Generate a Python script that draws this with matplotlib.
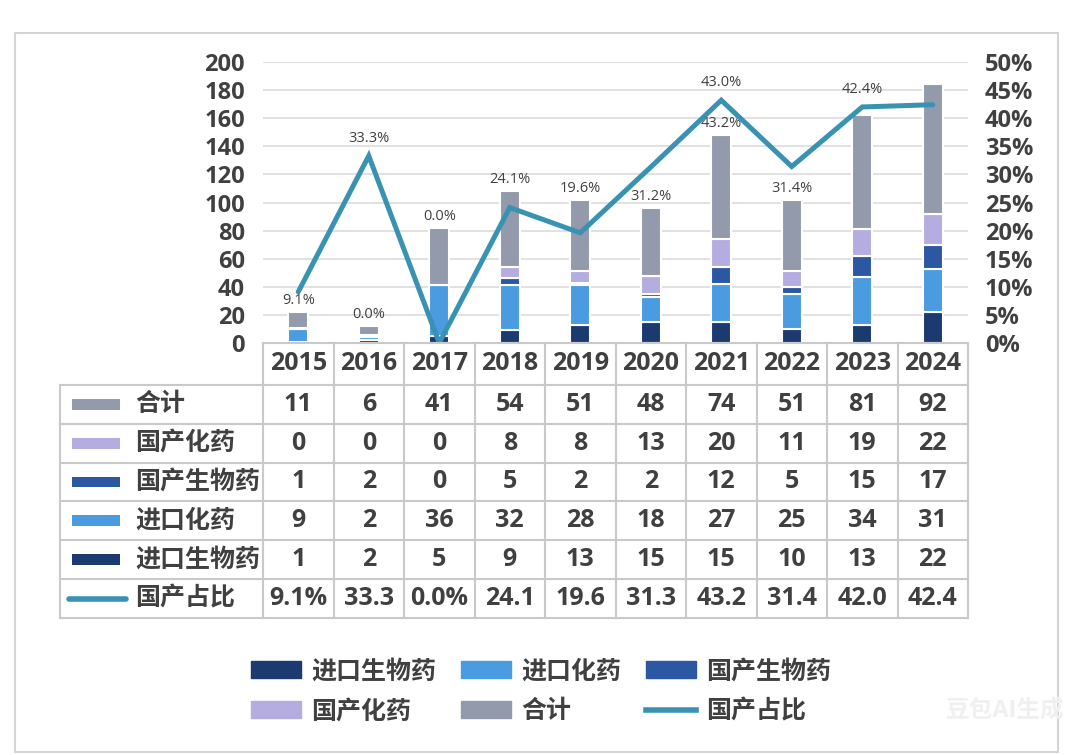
import numpy as np
import matplotlib
matplotlib.use("Agg")
import matplotlib.pyplot as plt
from matplotlib.patches import Rectangle, Patch
from matplotlib.lines import Line2D
from matplotlib.ticker import PercentFormatter

plt.rcParams['font.family'] = ['Open Sans', 'Noto Sans CJK SC', 'DejaVu Sans']

years = ["2015", "2016", "2017", "2018", "2019", "2020", "2021", "2022", "2023", "2024"]
imp_bio = [1, 2, 5, 9, 13, 15, 15, 10, 13, 22]      # 进口生物药
imp_chem = [9, 2, 36, 32, 28, 18, 27, 25, 34, 31]   # 进口化药
dom_bio = [1, 2, 0, 5, 2, 2, 12, 5, 15, 17]         # 国产生物药
dom_chem = [0, 0, 0, 8, 8, 13, 20, 11, 19, 22]      # 国产化药
total = [11, 6, 41, 54, 51, 48, 74, 51, 81, 92]     # 合计
share = [9.1, 33.3, 0.0, 24.1, 19.6, 31.3, 43.2, 31.4, 42.0, 42.4]  # 国产占比 %
share_text = ["9.1%", "33.3", "0.0%", "24.1", "19.6", "31.3", "43.2", "31.4", "42.0", "42.4"]
bar_labels = ["9.1%", "0.0%", "0.0%", "24.1%", "19.6%", "31.2%", "43.2%", "31.4%", "", ""]
line_labels = ["", "33.3%", "", "", "", "", "43.0%", "", "42.4%", ""]

names = ["进口生物药", "进口化药", "国产生物药", "国产化药", "合计"]
colors = ["#1b3a6f", "#4a9be0", "#2c58a3", "#b5addf", "#939aab"]
line_color = "#3a92b2"
line_name = "国产占比"
txt = "#404040"

W, H = 1080, 755
fig = plt.figure(figsize=(W / 100, H / 100), dpi=100)

def px(x0, y0, x1, y1):
    return [x0 / W, 1 - y1 / H, (x1 - x0) / W, (y1 - y0) / H]

# outer frame
fig.patches.append(Rectangle((15 / W, 1 - 752 / H), (1058 - 15) / W, (752 - 33) / H,
                             transform=fig.transFigure, fill=False,
                             edgecolor="#d4d4d4", lw=1.5))

ax = fig.add_axes(px(263, 62, 968, 343))
x = np.arange(len(years))
series = [imp_bio, imp_chem, dom_bio, dom_chem, total]
bottom = np.zeros(len(years))
for vals, c in zip(series, colors):
    ax.bar(x, vals, 0.28, bottom=bottom, color=c, edgecolor="white", lw=1.5, zorder=2)
    bottom += np.array(vals)

for xi, top, lab in zip(x, bottom, bar_labels):
    if lab:
        ax.annotate(lab, (xi, top), xytext=(0, 3), textcoords="offset points",
                    ha="center", va="bottom", fontsize=10.5, color=txt)

ax.set_xlim(-0.5, len(years) - 0.5)
ax.set_ylim(0, 200)
ax.set_yticks(range(0, 201, 20))
ax.set_xticks([])
ax.grid(axis="y", color="#dcdcdc", lw=1.2, zorder=0)
for s in ax.spines.values():
    s.set_visible(False)
ax.tick_params(axis="y", length=0, pad=13, labelsize=17, labelcolor=txt)
for t in ax.get_yticklabels():
    t.set_fontweight("bold")

ax2 = ax.twinx()
ax2.plot(x, np.array(share) / 100, color=line_color, lw=3.6, zorder=3,
         solid_joinstyle="miter", solid_capstyle="round")
for xi, v, lab in zip(x, share, line_labels):
    if lab:
        ax2.annotate(lab, (xi, v / 100), xytext=(0, 7), textcoords="offset points",
                     ha="center", va="bottom", fontsize=10.5, color=txt)
ax2.set_ylim(0, 0.5)
ax2.set_yticks(np.arange(0, 0.51, 0.05))
ax2.yaxis.set_major_formatter(PercentFormatter(1.0, decimals=0))
for s in ax2.spines.values():
    s.set_visible(False)
ax2.tick_params(axis="y", length=0, pad=12, labelsize=17, labelcolor=txt)
for t in ax2.get_yticklabels():
    t.set_fontweight("bold")

# data table under the chart
col_w = 70.5
x_left = -0.5 - (263 - 60) / col_w
tab = fig.add_axes(px(60, 343, 968, 618))
head_h = 42 / 39.0
rows_y = head_h + np.arange(7)
tab.set_xlim(x_left, len(years) - 0.5)
tab.set_ylim(rows_y[-1], 0)
tab.axis("off")
gc = "#c9c9c9"
tab.plot([-0.5, len(years) - 0.5], [0, 0], color=gc, lw=1.5, clip_on=False)
for yy in rows_y:
    tab.plot([x_left, len(years) - 0.5], [yy, yy], color=gc, lw=1.5, clip_on=False)
for k in range(len(years) + 1):
    tab.plot([k - 0.5, k - 0.5], [0, rows_y[-1]], color=gc, lw=1.5, clip_on=False)
tab.plot([x_left, x_left], [rows_y[0], rows_y[-1]], color=gc, lw=1.5, clip_on=False)

for xi, yr in zip(x, years):
    tab.text(xi, head_h / 2, yr, ha="center", va="center", fontsize=18,
             fontweight="bold", color=txt)

table_rows = [(names[4], colors[4], total), (names[3], colors[3], dom_chem),
              (names[2], colors[2], dom_bio), (names[1], colors[1], imp_chem),
              (names[0], colors[0], imp_bio)]
sw_x = x_left + 12 / col_w
sw_w = 48 / col_w
for r, (name, c, vals) in enumerate(table_rows):
    yc = rows_y[r] + 0.5
    tab.add_patch(Rectangle((sw_x, yc - 0.14), sw_w, 0.28, color=c, lw=0))
    tab.text(x_left + 75 / col_w, yc, name, ha="left", va="center", fontsize=18,
             fontweight="bold", color=txt)
    for xi, v in zip(x, vals):
        tab.text(xi, yc, str(v), ha="center", va="center", fontsize=18,
                 fontweight="bold", color=txt)
yc = rows_y[5] + 0.5
tab.plot([x_left + 9 / col_w, x_left + 66 / col_w], [yc, yc], color=line_color,
         lw=4, solid_capstyle="round")
tab.text(x_left + 75 / col_w, yc, line_name, ha="left", va="center", fontsize=18,
         fontweight="bold", color=txt)
for xi, s in zip(x, share_text):
    tab.text(xi, yc, s, ha="center", va="center", fontsize=18,
             fontweight="bold", color=txt)

# bottom legend, filled row by row
handles = [Patch(color=c) for c in colors] + [Line2D([], [], color=line_color, lw=4)]
labels = names + [line_name]
order = [0, 3, 1, 4, 2, 5]
leg = fig.legend([handles[i] for i in order], [labels[i] for i in order],
                 loc="center", bbox_to_anchor=(541 / W, 1 - 692 / H), ncol=3,
                 frameon=False, fontsize=18, handlelength=2.0, handleheight=0.65,
                 handletextpad=0.4, columnspacing=1.0, labelspacing=0.6)
for t in leg.get_texts():
    t.set_color(txt)
    t.set_fontweight("bold")

fig.text(1005 / W, 1 - 712 / H, "豆包AI生成", ha="center", va="center",
         fontsize=17, fontweight="bold", color="#f0f0f0")

fig.savefig("out.png", dpi=100)
